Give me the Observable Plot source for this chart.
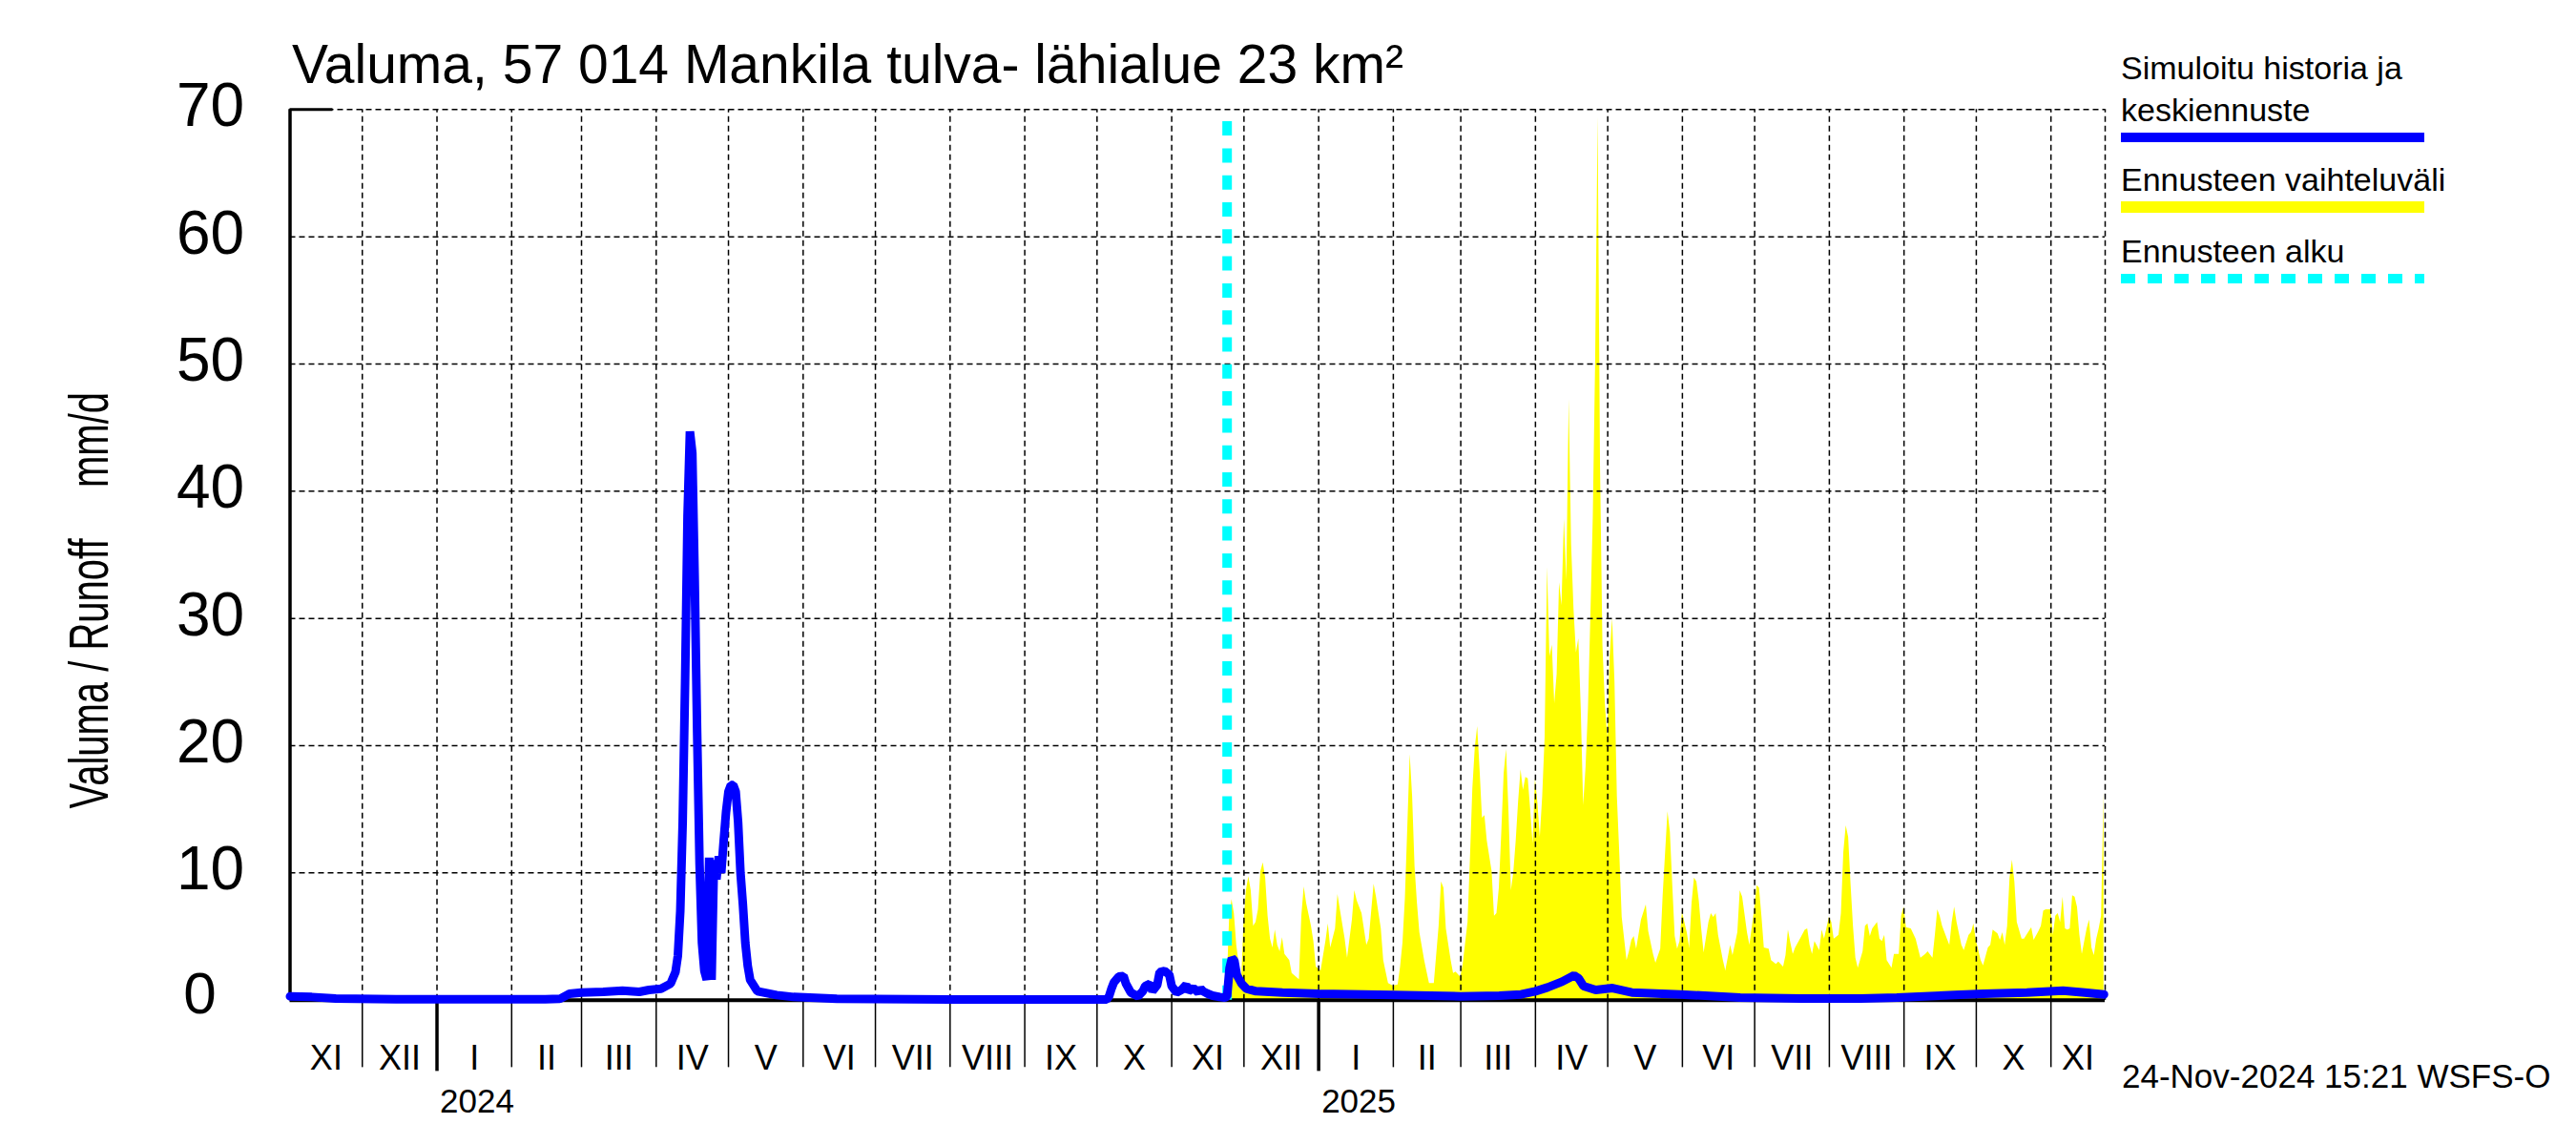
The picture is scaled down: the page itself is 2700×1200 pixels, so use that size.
<!DOCTYPE html>
<html>
<head>
<meta charset="utf-8">
<script src="https://cdn.jsdelivr.net/npm/d3@7"></script>
<script src="https://cdn.jsdelivr.net/npm/@observablehq/plot@0.6"></script>
<style>
  html, body { margin: 0; padding: 0; background: #fff; }
  body { font-family: "Liberation Sans", Arial, Helvetica, sans-serif; color: #000; }
  #wrap { position: relative; width: 2700px; height: 1200px; overflow: hidden; background: #fff; }
  #title { position: relative; height: 100px; }
  #title span { position: absolute; left: 306px; top: 38.7px; font-size: 57px; line-height: 57px; white-space: nowrap; }
  .abs { position: absolute; white-space: nowrap; line-height: 1; }
  .leg { font-size: 34px; line-height: 34px; left: 2223px; }
  .bar { position: absolute; left: 2223px; width: 318px; }
  .ylab { position: absolute; font-size: 40px; line-height: 40px; transform: translate(-50%, -50%) rotate(-90deg) scaleY(1.45); white-space: nowrap; }
</style>
</head>
<body>
<div id="wrap">
  <div id="title"><span>Valuma, 57 014 Mankila tulva- lähialue 23 km²</span></div>
  <div id="chart"></div>
  <div class="ylab" style="left:93px; top:461px;">mm/d</div>
  <div class="ylab" style="left:93px; top:706px;">Valuma / Runoff</div>
  <div class="abs leg" style="top:54.2px;">Simuloitu historia ja</div>
  <div class="abs leg" style="top:98.2px;">keskiennuste</div>
  <div class="bar" style="top:139px; height:10px; background:#0000ff;"></div>
  <div class="abs leg" style="top:171.2px;">Ennusteen vaihteluväli</div>
  <div class="bar" style="top:211px; height:12px; background:#ffff00;"></div>
  <div class="abs leg" style="top:246.2px;">Ennusteen alku</div>
  <div class="bar" style="top:287px; height:10px; background:repeating-linear-gradient(to right, #00ffff 0 15px, transparent 15px 28px);"></div>
  <div class="abs" style="left:2224px; top:1110.4px; font-size:35px; line-height:35px;">24-Nov-2024 15:21 WSFS-O</div>
</div>
<script>
// ---- data ----
const domainStart = "2023-11-01";
const domainEnd = "2025-11-23T12:00:00Z";
const forecastStart = "2024-11-24";

const romanMonths = ["I","II","III","IV","V","VI","VII","VIII","IX","X","XI","XII"];
const yearLabels = ["2024", "2025"];
const yearDates = ["2024-01-01", "2025-01-01"];
const yTicks = [0, 10, 20, 30, 40, 50, 60, 70];

// Simulated history + mean forecast (mm/d)
const runoffDates = [
  "2023-11-01","2023-11-10","2023-11-20","2023-12-15","2024-01-15","2024-02-15","2024-02-21","2024-02-25",
  "2024-03-01","2024-03-10","2024-03-18","2024-03-25","2024-03-29","2024-04-03","2024-04-07","2024-04-09",
  "2024-04-10","2024-04-11","2024-04-12","2024-04-13","2024-04-14","2024-04-15","2024-04-16","2024-04-17",
  "2024-04-18","2024-04-19","2024-04-20","2024-04-21","2024-04-22","2024-04-23","2024-04-24","2024-04-25",
  "2024-04-26","2024-04-27","2024-04-28","2024-04-29","2024-04-30","2024-05-01","2024-05-02","2024-05-03",
  "2024-05-04","2024-05-05","2024-05-06","2024-05-07","2024-05-08","2024-05-09","2024-05-10","2024-05-13",
  "2024-05-21","2024-05-28","2024-06-15","2024-08-01","2024-10-05","2024-10-06","2024-10-07","2024-10-08",
  "2024-10-10","2024-10-12","2024-10-13","2024-10-15","2024-10-18","2024-10-20","2024-10-21","2024-10-23",
  "2024-10-24","2024-10-26","2024-10-27","2024-10-29","2024-10-31","2024-11-01","2024-11-03","2024-11-05",
  "2024-11-07","2024-11-08","2024-11-10","2024-11-12","2024-11-13","2024-11-14","2024-11-16","2024-11-18",
  "2024-11-21","2024-11-23","2024-11-24",
  "2024-11-25","2024-11-26","2024-11-27","2024-11-28","2024-11-30","2024-12-02","2024-12-06","2024-12-17",
  "2025-01-01","2025-02-01","2025-03-01","2025-03-17","2025-03-26","2025-04-01","2025-04-06","2025-04-12",
  "2025-04-17","2025-04-19","2025-04-21","2025-04-26","2025-05-03","2025-05-11","2025-05-31","2025-06-25",
  "2025-07-20","2025-08-14","2025-08-29","2025-09-22","2025-10-04","2025-10-22","2025-11-06","2025-11-15",
  "2025-11-23"
];
const runoffValues = [
  0.3,0.25,0.12,0.08,0.07,0.08,0.1,0.5,
  0.6,0.65,0.75,0.65,0.8,0.9,1.3,2.2,
  3.5,7,14,25,38,44.7,43,33,
  21,10.7,4.5,2.3,1.6,11.2,1.6,11.0,
  9.5,11.3,10,12.5,14.8,16.4,16.9,16.9,
  16.4,14,10,7.5,4.5,2.7,1.6,0.7,
  0.4,0.25,0.1,0.05,0.05,0.3,0.9,1.4,
  1.85,1.9,1.3,0.6,0.3,0.7,1.1,1.3,
  0.7,1.2,2.2,2.3,2.0,1.1,0.6,0.8,
  1.2,0.7,0.95,0.6,0.9,0.7,0.5,0.35,
  0.25,0.2,0.3,
  2.5,3.3,3.1,2.0,1.3,0.9,0.7,0.6,
  0.5,0.4,0.3,0.35,0.45,0.7,1.0,1.45,
  1.95,1.7,1.1,0.8,0.95,0.6,0.45,0.2,
  0.12,0.12,0.2,0.4,0.5,0.6,0.75,0.6,
  0.45
];

// Forecast range (upper envelope, mm/d); lower bound is ~0
const rangeDates = [
  "2024-11-24","2024-11-25","2024-11-26","2024-11-27","2024-11-28","2024-11-30","2024-12-01","2024-12-02",
  "2024-12-03","2024-12-04","2024-12-05","2024-12-06","2024-12-07","2024-12-08","2024-12-09","2024-12-10",
  "2024-12-11","2024-12-12","2024-12-13","2024-12-14","2024-12-15","2024-12-16","2024-12-17","2024-12-18",
  "2024-12-20","2024-12-21","2024-12-24","2024-12-25","2024-12-26","2024-12-27","2024-12-29","2024-12-30",
  "2024-12-31","2025-01-02","2025-01-04","2025-01-05","2025-01-06","2025-01-08","2025-01-09","2025-01-10",
  "2025-01-12","2025-01-13","2025-01-15","2025-01-16","2025-01-17","2025-01-19","2025-01-21","2025-01-22",
  "2025-01-24","2025-01-25","2025-01-27","2025-01-28","2025-01-30","2025-02-01","2025-02-03","2025-02-04",
  "2025-02-05","2025-02-06","2025-02-07","2025-02-08","2025-02-09","2025-02-10","2025-02-11","2025-02-12",
  "2025-02-14","2025-02-16","2025-02-18","2025-02-20","2025-02-21","2025-02-22","2025-02-23","2025-02-25",
  "2025-02-26","2025-02-27","2025-03-01","2025-03-02","2025-03-04","2025-03-05","2025-03-06","2025-03-07",
  "2025-03-08","2025-03-09","2025-03-10","2025-03-11","2025-03-12","2025-03-14","2025-03-15","2025-03-16",
  "2025-03-17","2025-03-18","2025-03-19","2025-03-20","2025-03-21","2025-03-22","2025-03-23","2025-03-24",
  "2025-03-25","2025-03-26","2025-03-27","2025-03-28","2025-03-29","2025-03-30","2025-03-31","2025-04-01",
  "2025-04-02","2025-04-03","2025-04-04","2025-04-05","2025-04-06","2025-04-07","2025-04-08","2025-04-09",
  "2025-04-10","2025-04-11","2025-04-12","2025-04-13","2025-04-14","2025-04-15","2025-04-16","2025-04-17",
  "2025-04-18","2025-04-19","2025-04-20","2025-04-21","2025-04-22","2025-04-23","2025-04-24","2025-04-25",
  "2025-04-26","2025-04-27","2025-04-28","2025-04-29","2025-04-30","2025-05-01","2025-05-02","2025-05-03",
  "2025-05-04","2025-05-05","2025-05-06","2025-05-07","2025-05-09","2025-05-10","2025-05-11","2025-05-12",
  "2025-05-13","2025-05-15","2025-05-17","2025-05-18","2025-05-20","2025-05-21","2025-05-23","2025-05-24",
  "2025-05-26","2025-05-27","2025-05-28","2025-05-29","2025-05-30","2025-05-31","2025-06-01","2025-06-02",
  "2025-06-03","2025-06-04","2025-06-05","2025-06-06","2025-06-07","2025-06-08","2025-06-09","2025-06-10",
  "2025-06-12","2025-06-13","2025-06-14","2025-06-15","2025-06-16","2025-06-18","2025-06-19","2025-06-20",
  "2025-06-21","2025-06-22","2025-06-24","2025-06-25","2025-06-26","2025-06-28","2025-06-29","2025-07-01",
  "2025-07-02","2025-07-03","2025-07-04","2025-07-05","2025-07-07","2025-07-08","2025-07-10","2025-07-11",
  "2025-07-13","2025-07-14","2025-07-15","2025-07-16","2025-07-17","2025-07-18","2025-07-20","2025-07-22",
  "2025-07-23","2025-07-24","2025-07-25","2025-07-26","2025-07-28","2025-07-29","2025-07-30","2025-08-01",
  "2025-08-02","2025-08-03","2025-08-05","2025-08-06","2025-08-07","2025-08-08","2025-08-09","2025-08-10",
  "2025-08-11","2025-08-12","2025-08-13","2025-08-15","2025-08-16","2025-08-17","2025-08-18","2025-08-19",
  "2025-08-21","2025-08-22","2025-08-23","2025-08-24","2025-08-25","2025-08-27","2025-08-28","2025-08-30",
  "2025-08-31","2025-09-01","2025-09-02","2025-09-04","2025-09-06","2025-09-08","2025-09-10","2025-09-11",
  "2025-09-13","2025-09-14","2025-09-15","2025-09-16","2025-09-17","2025-09-19","2025-09-20","2025-09-21",
  "2025-09-22","2025-09-23","2025-09-25","2025-09-26","2025-09-28","2025-09-29","2025-09-30","2025-10-01",
  "2025-10-03","2025-10-04","2025-10-06","2025-10-07","2025-10-08","2025-10-10","2025-10-11","2025-10-12",
  "2025-10-13","2025-10-14","2025-10-15","2025-10-16","2025-10-17","2025-10-18","2025-10-20","2025-10-21",
  "2025-10-22","2025-10-24","2025-10-25","2025-10-27","2025-10-28","2025-10-29","2025-10-30","2025-11-01",
  "2025-11-02","2025-11-03","2025-11-04","2025-11-05","2025-11-06","2025-11-07","2025-11-08","2025-11-09",
  "2025-11-10","2025-11-11","2025-11-12","2025-11-13","2025-11-14","2025-11-16","2025-11-17","2025-11-18",
  "2025-11-19","2025-11-20","2025-11-21","2025-11-22","2025-11-23"
];
const rangeMax = [
  1.0,6.3,7.9,6.8,4.3,1.3,6.1,8.6,
  9.7,8.6,5.8,6.1,7.1,10.1,10.8,9.6,
  6.6,4.8,4.1,5.5,4.3,3.8,4.9,3.6,
  3.1,2.1,1.6,6.6,8.9,7.6,5.8,4.6,
  2.6,2.3,4.6,6.0,4.1,5.6,8.3,7.1,
  4.8,3.3,6.3,8.6,7.8,6.8,4.3,4.8,
  9.1,8.1,5.6,3.1,1.3,1.1,1.2,2.6,
  4.5,8.0,13.6,19.3,16.0,10.5,7.6,5.3,
  3.1,1.3,1.3,5.8,9.3,8.8,5.6,3.1,
  2.1,2.2,1.8,2.8,6.1,11.1,16.6,19.8,
  21.5,18.1,14.3,14.5,12.5,10.1,6.6,6.8,
  8.8,13.1,17.8,19.7,14.8,8.6,10.0,12.5,
  15.6,18.1,16.5,17.5,17.4,15.0,12.3,17.4,
  15.5,12.8,16.0,20.6,34.0,27.0,27.9,23.3,
  25.6,32.8,31.0,37.8,33.0,47.2,35.8,30.7,
  27.3,28.4,22.9,15.3,18.3,22.9,30.2,38.0,
  50.5,69.4,42.0,27.9,23.3,20.6,27.0,30.0,
  25.0,16.0,11.5,6.5,3.1,3.8,4.7,5.0,
  4.0,6.3,7.5,5.4,3.6,2.9,4.0,8.2,
  14.8,13.2,9.0,5.0,4.0,4.6,6.9,6.1,
  5.3,4.1,7.6,9.6,9.3,7.8,5.6,3.7,
  6.1,6.8,6.5,6.8,5.1,3.1,2.3,3.3,
  4.3,3.5,5.3,8.6,8.1,5.3,4.3,7.1,
  9.0,8.8,6.6,4.1,4.0,3.1,2.8,3.0,
  2.6,3.5,5.5,4.5,3.6,4.1,4.8,5.5,
  5.6,4.3,3.6,4.6,3.9,5.5,4.8,6.5,
  6.1,4.8,5.1,6.8,11.6,13.7,12.8,9.1,
  5.8,3.3,2.5,3.8,5.8,6.0,5.0,5.6,
  6.1,4.8,4.6,5.1,3.1,2.5,3.6,3.6,
  6.6,7.3,5.7,5.6,4.8,3.3,3.6,3.8,
  3.3,5.1,7.1,6.6,5.8,4.8,4.3,6.1,
  7.3,6.1,4.3,3.9,5.1,5.3,6.0,4.7,
  3.1,2.7,4.1,4.3,5.5,5.2,4.7,5.3,
  4.3,5.8,9.6,11.0,9.3,6.1,4.8,4.8,
  5.1,5.7,4.7,5.4,5.8,7.0,7.1,7.1,
  5.1,6.6,6.8,6.1,8.1,5.6,5.5,5.6,
  8.2,8.1,7.3,5.1,3.6,5.6,6.3,4.1,
  3.5,4.8,5.6,6.6,16.3
];

// ---- build tables ----
const parse = s => new Date(s.length === 10 ? s + "T00:00:00Z" : s);
const x0 = parse(domainStart), x1 = parse(domainEnd), fStart = parse(forecastStart);
const runoff = runoffDates.map((d, i) => ({date: parse(d), value: runoffValues[i]}));
const range = rangeDates.map((d, i) => ({date: parse(d), max: rangeMax[i]}));
const monthStarts = d3.utcMonth.range(x0, x1);
const gridMonths = monthStarts.filter(d => +d > +x0);
const yearStarts = gridMonths.filter(d => d.getUTCMonth() === 0);
const otherMonths = gridMonths.filter(d => d.getUTCMonth() !== 0);
const monthLabels = monthStarts.map(s => {
  const e = d3.utcMonth.offset(s, 1);
  const a = Math.max(+s, +x0), b = Math.min(+e, +x1);
  return {date: new Date((a + b) / 2), label: romanMonths[s.getUTCMonth()]};
});
const years = yearLabels.map((t, i) => ({date: parse(yearDates[i]), label: t}));

const W = 2700, H = 1100, mL = 303.5, mR = 494;
const plotW = W - mL - mR;
const dash = "6,4";
const chart = Plot.plot({
  width: W,
  height: H,
  marginLeft: mL,
  marginRight: mR,
  marginTop: 14.3,
  marginBottom: 152.3,
  style: {fontFamily: "'Liberation Sans', Arial, Helvetica, sans-serif", background: "#fff", overflow: "visible", color: "#000"},
  x: {type: "utc", domain: [x0, x1], axis: null},
  y: {domain: [0, 70], axis: null},
  marks: [
    Plot.areaY(range, {x: "date", y1: 0, y2: "max", fill: "#ffff00", curve: "linear"}),
    Plot.ruleY(yTicks.filter(v => v > 0), {x1: x0, x2: x1, stroke: "#000", strokeWidth: 1.5, strokeDasharray: dash}),
    Plot.ruleX(gridMonths, {y1: 0, y2: 70, stroke: "#000", strokeWidth: 1.5, strokeDasharray: dash}),
    Plot.ruleX([x1], {y1: 0, y2: 70, stroke: "#000", strokeWidth: 1.5, strokeDasharray: dash}),
    Plot.ruleY([70], {x1: x0, x2: x1, insetRight: plotW - 45, stroke: "#000", strokeWidth: 3}),
    Plot.ruleX(otherMonths, {y1: 0, y2: -5.3, stroke: "#000", strokeWidth: 1.5}),
    Plot.ruleX(yearStarts, {y1: 0, y2: -5.6, stroke: "#000", strokeWidth: 3.5}),
    Plot.ruleX([x0], {y1: 0, y2: 70, stroke: "#000", strokeWidth: 3.5}),
    Plot.ruleY([0], {x1: x0, x2: x1, stroke: "#000", strokeWidth: 4}),
    Plot.ruleX([fStart], {y1: 69.04, y2: 0, stroke: "#00ffff", strokeWidth: 10, strokeDasharray: "15,13.3"}),
    Plot.line(runoff, {x: "date", y: "value", stroke: "#0000ff", strokeWidth: 9, strokeLinejoin: "bevel", curve: "linear"}),
    Plot.text(yTicks.filter(v => v > 0), {y: d => d, text: d => String(d), frameAnchor: "left", dx: 220 - 303.5, dy: -3, textAnchor: "middle", fontSize: 64, fill: "#000"}),
    Plot.text([0], {y: d => d, text: d => String(d), frameAnchor: "left", dx: 209 - 303.5, dy: -6, textAnchor: "middle", fontSize: 62, fill: "#000"}),
    Plot.text(monthLabels, {x: "date", text: "label", frameAnchor: "bottom", dy: 1020 - 947.7, lineAnchor: "bottom", fontSize: 36, fill: "#000"}),
    Plot.text(years, {x: "date", text: "label", frameAnchor: "bottom", dx: 3, dy: 1065 - 947.7, textAnchor: "start", lineAnchor: "bottom", fontSize: 35, fill: "#000"})
  ]
});
document.getElementById("chart").appendChild(chart);
</script>
</body>
</html>
